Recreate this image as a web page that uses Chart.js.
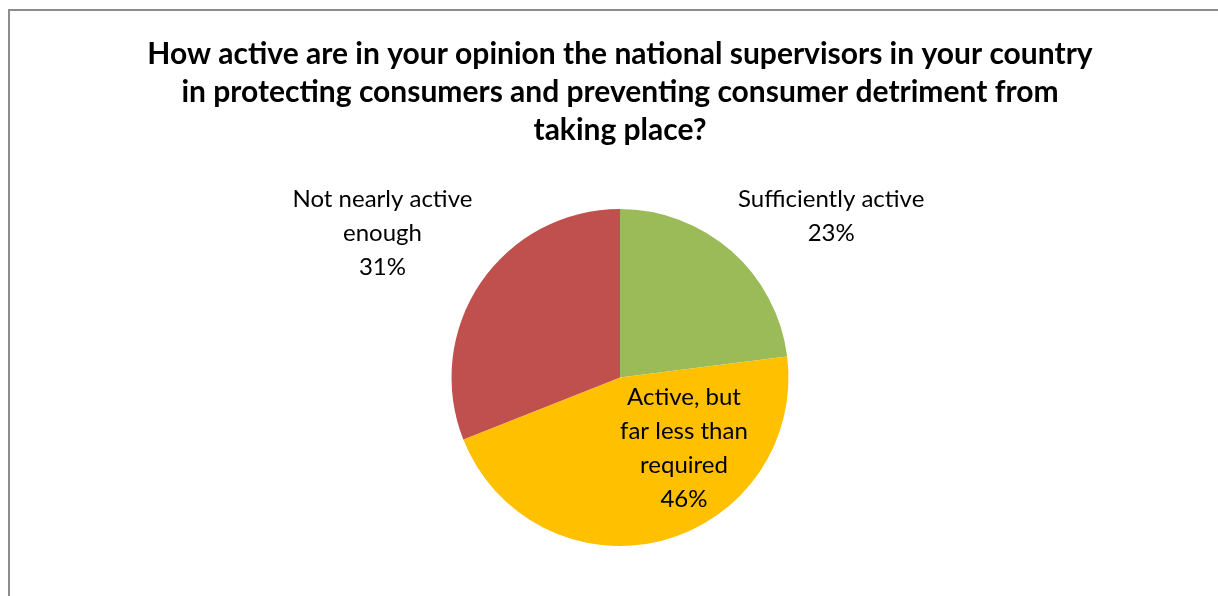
<!DOCTYPE html>
<html>
<head>
<meta charset="utf-8">
<script src="https://cdn.jsdelivr.net/npm/chart.js@4/dist/chart.umd.min.js"></script>
<style>
  html, body { margin: 0; padding: 0; background: #fff; }
  #wrap { position: relative; width: 1218px; height: 596px; }
</style>
</head>
<body>
<div id="wrap"><canvas id="pie" width="1218" height="596"></canvas></div>
<script>
const categories = ["Sufficiently active", "Active, but far less than required", "Not nearly active enough"];
const shares = [23, 46, 31];
const sliceColors = ["#9BBB59", "#FFC000", "#C0504D"];
// label text split into lines, the percentage goes below
const labelLines = [
  ["Sufficiently active"],
  ["Active, but", "far less than", "required"],
  ["Not nearly active", "enough"]
];

// frame on the left and top edge
const framePlugin = {
  id: "frame",
  beforeDraw(chart) {
    const ctx = chart.ctx;
    ctx.save();
    ctx.strokeStyle = "#8c8c8c";
    ctx.lineWidth = 2;
    ctx.beginPath();
    ctx.moveTo(9, chart.height);
    ctx.lineTo(9, 10);
    ctx.lineTo(chart.width, 10);
    ctx.stroke();
    ctx.restore();
  }
};

// data labels: outside for the small slices, inside for the big one
const sliceLabels = {
  id: "sliceLabels",
  afterDatasetsDraw(chart) {
    const ctx = chart.ctx;
    const meta = chart.getDatasetMeta(0);
    const lh = 34;
    ctx.save();
    ctx.font = "24px Lato";
    ctx.fillStyle = "#000";
    ctx.textBaseline = "middle";
    meta.data.forEach((arc, i) => {
      const lines = labelLines[i].concat([shares[i] + "%"]);
      const mid = (arc.startAngle + arc.endAngle) / 2;
      const h = lines.length * lh;
      let cx, top;
      if (i === 1) {
        const p = arc.tooltipPosition();
        cx = p.x + 43;
        top = p.y - 11 - h / 2;
      } else {
        const r = arc.outerRadius + 10;
        const ax = arc.x + Math.cos(mid) * r;
        const ay = arc.y + Math.sin(mid) * r;
        const w = Math.max(...lines.map(t => ctx.measureText(t).width));
        cx = Math.cos(mid) > 0 ? ax + w / 2 : ax - w / 2;
        top = ay - h + 7;
      }
      ctx.textAlign = "center";
      lines.forEach((t, k) => ctx.fillText(t, cx, top + lh * k + lh / 2));
    });
    ctx.restore();
  }
};

new Chart(document.getElementById("pie"), {
  type: "pie",
  data: {
    labels: categories,
    datasets: [{
      data: shares,
      backgroundColor: sliceColors,
      borderWidth: 0
    }]
  },
  options: {
    responsive: false,
    animation: false,
    layout: { padding: { left: 22, right: 0, top: 0, bottom: 50 } },
    plugins: {
      legend: { display: false },
      tooltip: { enabled: false },
      title: {
        display: true,
        text: [
          "How active are in your opinion the national supervisors in your country",
          "in protecting consumers and preventing consumer detriment from",
          "taking place?"
        ],
        color: "#000",
        font: { family: "Lato", size: 30, weight: "bold", lineHeight: 38 / 30 },
        padding: { top: 35, bottom: 60 }
      }
    }
  },
  plugins: [framePlugin, sliceLabels]
});
</script>
</body>
</html>
